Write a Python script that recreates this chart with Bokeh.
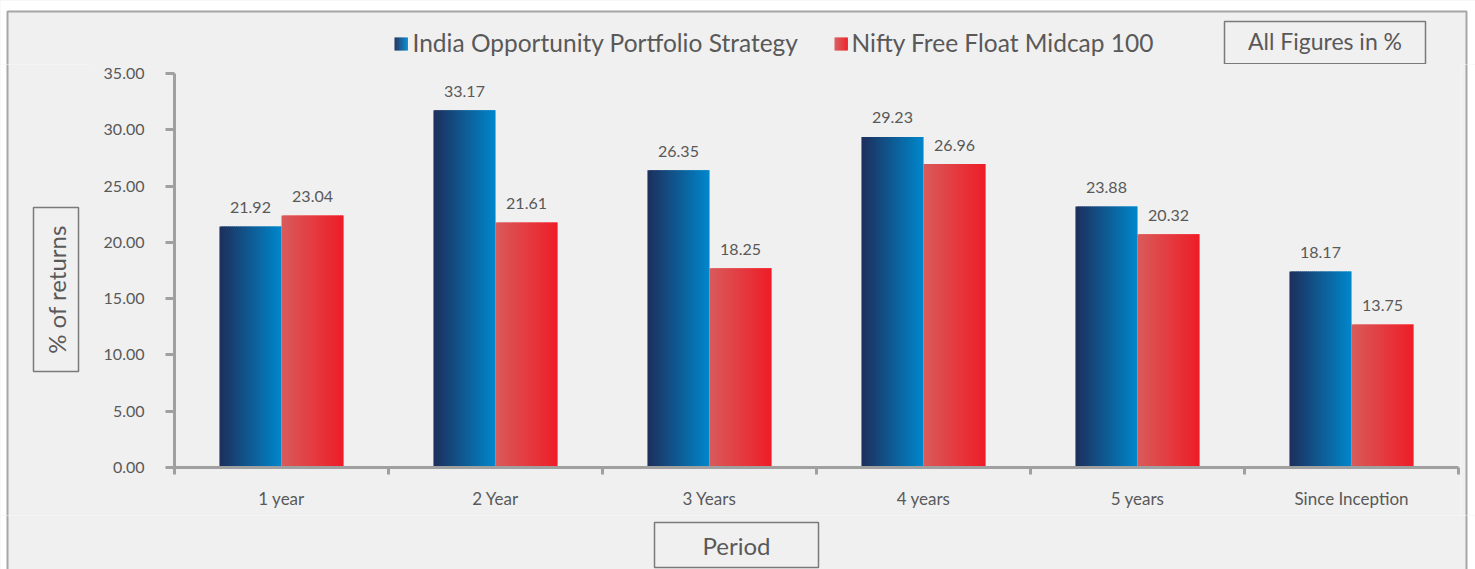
import math
from bokeh.plotting import figure
from bokeh.layouts import column, row
from bokeh.models import Range1d, FixedTicker, NumeralTickFormatter, LinearAxis, ColumnDataSource
from bokeh.core.properties import value
from bokeh.embed import file_html
from bokeh.resources import INLINE

# ---------------- data ----------------
periods = ["1 year", "2 Year", "3 Years", "4 years", "5 years", "Since Inception"]
series_names = ["India Opportunity Portfolio Strategy", "Nifty Free Float Midcap 100"]
# bar heights as drawn in the picture
iops_heights = [21.41, 31.73, 26.40, 29.36, 23.19, 17.41]
nifty_heights = [22.39, 21.77, 17.70, 26.96, 20.73, 12.70]
# printed value labels
iops_labels = ["21.92", "33.17", "26.35", "29.23", "23.88", "18.17"]
nifty_labels = ["23.04", "21.61", "18.25", "26.96", "20.32", "13.75"]
y_ticks = [0, 5, 10, 15, 20, 25, 30, 35]
y_title = "% of returns"
x_title = "Period"
note_text = "All Figures in %"

# ---------------- style ----------------
FONT = "Lato"
TXT = "#595959"
AX = "#a0a0a0"
BG = "#f0f0f0"
BORDER = "#a6a6a6"
BOXC = "#7a7a7a"
BLUE = ((29, 48, 94), (0, 134, 202))
RED = ((217, 90, 90), (238, 30, 40))
BAR_W = 0.29
NSTRIP = 31

W, H = 1475, 569
TOP_H, BOT_Y = 64, 515          # page rows: top strip / middle / bottom strip
LEFT_W, RIGHT_X = 90, 1460      # page columns: left strip / main / right strip
FL, FR, FT, FB = 174, 1458, 73, 467   # plot frame edges (page pixels)
OUTER = (7, 1466, 11, 640)      # outer chart box (l, r, t, b)


def lerp(c, t):
    a, b = c
    return "#%02x%02x%02x" % tuple(int(round(x + (y - x) * t)) for x, y in zip(a, b))


def strip_fig(x0, y0, w, h):
    """A figure whose frame fills its canvas, in page-pixel coordinates (y down)."""
    f = figure(width=w, height=h, x_range=Range1d(x0, x0 + w), y_range=Range1d(y0 + h, y0),
               title=None, output_backend="svg", toolbar_location=None,
               x_axis_type=None, y_axis_type=None, min_border=0, frame_align=False)
    f.outline_line_color = None
    f.grid.visible = False
    f.border_fill_color = BG
    f.background_fill_color = "white"
    l, r, t, b = OUTER
    f.quad(left=[l], right=[r], top=[t], bottom=[b], fill_color=BG,
           line_color=BORDER, line_width=2)
    return f


def text_box(f, l, r, t, b):
    f.quad(left=[l], right=[r], top=[t], bottom=[b], fill_color=None,
           line_color=BOXC, line_width=1.5)


def put_text(f, x, y, s, size, align="center", baseline="alphabetic", angle=0.0):
    f.text(x=[x], y=[y], text=[s], angle=angle, text_align=align, text_baseline=baseline,
           text_font=value(FONT), text_font_size=size, text_color=TXT)


# ---------------- top strip: legend + note ----------------
top = strip_fig(0, 0, W, TOP_H)
for (x0, grad, name, tx) in ((394, BLUE, series_names[0], 412), (834, RED, series_names[1], 851)):
    n = 13
    top.quad(left=[x0 + k for k in range(n)], right=[x0 + k + 1.4 for k in range(n)],
             top=[37] * n, bottom=[50] * n,
             fill_color=[lerp(grad, k / (n - 1)) for k in range(n)], line_color=None)
    put_text(top, tx, 42, name, "24.5px", align="left")
text_box(top, 1224, 1425, 21, 63.2)
put_text(top, 1324.5, 40, note_text, "23px")

# ---------------- left strip: y title ----------------
left = strip_fig(0, TOP_H, LEFT_W, BOT_Y - TOP_H)
text_box(left, 33, 78, 207, 371)
put_text(left, 56, 289, y_title, "24px", baseline="middle", angle=math.pi / 2)

# ---------------- right strip ----------------
right = strip_fig(RIGHT_X, TOP_H, W - RIGHT_X, BOT_Y - TOP_H)

# ---------------- bottom strip: x title ----------------
bottom = strip_fig(0, BOT_Y, W, H - BOT_Y)
text_box(bottom, 654, 818, 522, 567)
put_text(bottom, 736, 545, x_title, "24px")

# ---------------- main plot ----------------
mw, mh = RIGHT_X - LEFT_W, BOT_Y - TOP_H
p = figure(width=mw, height=mh, x_range=Range1d(0, 6), y_range=Range1d(0, 35),
           title=None, output_backend="svg", toolbar_location=None,
           x_axis_type=None, y_axis_type=None, frame_align=False,
           min_border_left=FL - LEFT_W, min_border_right=RIGHT_X - FR,
           min_border_top=FT - TOP_H, min_border_bottom=BOT_Y - FB)
p.outline_line_color = None
p.border_fill_color = BG
p.background_fill_color = BG
p.grid.visible = False

yax = LinearAxis(ticker=FixedTicker(ticks=y_ticks), formatter=NumeralTickFormatter(format="0.00"))
yax.axis_line_color = AX
yax.axis_line_width = 3
yax.major_tick_line_color = AX
yax.major_tick_line_width = 3
yax.major_tick_out = 9
yax.major_tick_in = 0
yax.minor_tick_line_color = None
yax.major_label_text_font = FONT
yax.major_label_text_font_size = "16px"
yax.major_label_text_color = TXT
yax.major_label_standoff = 21
p.add_layout(yax, "left")

centres = [i + 0.5 for i in range(len(periods))]
xax = LinearAxis(ticker=FixedTicker(ticks=centres, minor_ticks=list(range(len(periods) + 1))))
xax.major_label_overrides = {c: lab for c, lab in zip(centres, periods)}
xax.axis_line_color = AX
xax.axis_line_width = 3
xax.major_tick_line_color = None
xax.major_tick_out = 0
xax.major_tick_in = 0
xax.minor_tick_line_color = AX
xax.minor_tick_line_width = 3
xax.minor_tick_out = 7
xax.minor_tick_in = 0
xax.major_label_text_font = FONT
xax.major_label_text_font_size = "17px"
xax.major_label_text_color = TXT
xax.major_label_standoff = 13
p.add_layout(xax, "below")

# gradient bars from overlapping thin strips
sw = BAR_W / NSTRIP
for heights, grad, side in ((iops_heights, BLUE, -1), (nifty_heights, RED, 0)):
    for k in range(NSTRIP):
        col = lerp(grad, k / (NSTRIP - 1))
        lefts = [c + side * BAR_W + k * sw for c in centres]
        rights = [min(l + 1.8 * sw, c + (side + 1) * BAR_W) for l, c in zip(lefts, centres)]
        p.quad(left=lefts, right=rights, top=heights, bottom=[0] * len(heights),
               fill_color=col, line_color=None)

# value labels
for heights, labels, side in ((iops_heights, iops_labels, -0.5), (nifty_heights, nifty_labels, 0.5)):
    src = ColumnDataSource(dict(x=[c + side * BAR_W for c in centres], y=heights, t=labels))
    p.text(x="x", y="y", text="t", source=src, text_align="center", text_baseline="alphabetic",
           y_offset=-19, text_font=value(FONT), text_font_size="16px", text_color=TXT)

mid = row(left, p, right, styles={"background-color": BG})
layout = column(top, mid, bottom, styles={"background-color": BG})
open("out.html", "w").write(file_html(layout, INLINE))
